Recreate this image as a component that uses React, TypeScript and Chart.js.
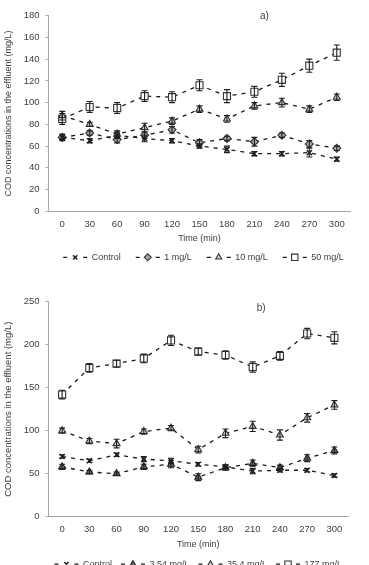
import React, { useEffect, useRef } from 'react';
import { Chart, registerables } from 'chart.js';
import { drawPoint } from 'chart.js/helpers';

Chart.register(...registerables);

// ---- data -------------------------------------------------------------
const timeLabels = ['0', '30', '60', '90', '120', '150', '180', '210', '240', '270', '300'];

// a) COD (mg/L) and +/- error
const controlA = [68, 65, 70, 67, 65, 60, 57, 53, 53, 54, 48];
const controlAErr = [2, 2, 3, 3, 2, 2, 3, 2, 2, 4, 2];
const oneMgA = [68, 72, 66, 70, 75, 63, 67, 64, 70, 62, 58];
const oneMgAErr = [3, 2, 3, 3, 3, 3, 2, 4, 2, 3, 2];
const tenMgA = [88, 80, 71, 77, 83, 94, 85, 97, 100, 94, 105];
const tenMgAErr = [4, 2, 3, 4, 3, 3, 3, 3, 4, 3, 3];
const fiftyMgA = [85, 96, 95, 106, 105, 116, 106, 110, 121, 134, 146];
const fiftyMgAErr = [5, 5, 5, 5, 5, 5, 6, 5, 6, 6, 7];

// b) COD (mg/L) and +/- error
const controlB = [70, 65, 72, 67, 65, 61, 58, 53, 54, 54, 48];
const controlBErr = [2, 2, 2, 3, 3, 2, 2, 3, 2, 2, 2];
const lowB = [58, 52, 50, 58, 61, 46, 57, 62, 57, 68, 77];
const lowBErr = [3, 2, 2, 3, 4, 4, 3, 4, 3, 4, 4];
const midB = [100, 88, 85, 99, 103, 78, 97, 105, 95, 115, 130];
const midBErr = [3, 3, 5, 3, 3, 4, 5, 6, 6, 5, 5];
const highB = [142, 173, 178, 184, 205, 192, 188, 174, 187, 213, 208];
const highBErr = [5, 5, 4, 5, 6, 4, 5, 6, 5, 6, 7];

// ---- styles -----------------------------------------------------------
const FONT = '"Liberation Sans", Arial, sans-serif';
const TEXT = '#404040';
const AXIS = '#a6a6a6';
const LINE = '#1a1a1a';
const Y_TITLE = 'COD concentrations in the effluent (mg/L)';

const markers: Record<string, any> = {
  cross: { pointStyle: 'crossRot', pointRadius: 3.5, pointBackgroundColor: '#1f1f1f', pointBorderColor: '#1f1f1f', pointBorderWidth: 1.5 },
  diamond: { pointStyle: 'rectRot', pointRadius: 4, pointBackgroundColor: '#a6a6a6', pointBorderColor: '#333333', pointBorderWidth: 1.1 },
  triLight: { pointStyle: 'triangle', pointRadius: 4, pointBackgroundColor: '#d0d0d0', pointBorderColor: '#333333', pointBorderWidth: 1.1 },
  triDark: { pointStyle: 'triangle', pointRadius: 4, pointBackgroundColor: '#6e6e6e', pointBorderColor: '#1f1f1f', pointBorderWidth: 1.1 },
  square: { pointStyle: 'rect', pointRadius: 5, pointBackgroundColor: '#ffffff', pointBorderColor: '#333333', pointBorderWidth: 1.1 },
};

function series(label: string, data: number[], errors: number[], marker: string) {
  return {
    label,
    data,
    errors,
    borderColor: LINE,
    borderWidth: 1.3,
    borderDash: [4, 5],
    fill: false,
    tension: 0,
    ...markers[marker],
  };
}

// vertical error bars with caps
const errorBarPlugin = {
  id: 'errorBars',
  afterDatasetsDraw(chart: any) {
    const { ctx } = chart;
    const yScale = chart.scales.y;
    chart.data.datasets.forEach((ds: any, i: number) => {
      if (!ds.errors) return;
      const meta = chart.getDatasetMeta(i);
      ctx.save();
      ctx.strokeStyle = '#1f1f1f';
      ctx.lineWidth = 1.1;
      ctx.setLineDash([]);
      meta.data.forEach((pt: any, j: number) => {
        const v = ds.data[j];
        const e = ds.errors[j];
        const top = yScale.getPixelForValue(v + e);
        const bot = yScale.getPixelForValue(v - e);
        const x = pt.x;
        ctx.beginPath();
        ctx.moveTo(x, top);
        ctx.lineTo(x, bot);
        ctx.moveTo(x - 3, top);
        ctx.lineTo(x + 3, top);
        ctx.moveTo(x - 3, bot);
        ctx.lineTo(x + 3, bot);
        ctx.stroke();
      });
      ctx.restore();
    });
  },
};

// legend entries drawn as "- marker - label"
const dashLegendPlugin = {
  id: 'dashLegend',
  afterDraw(chart: any, _args: any, opts: any) {
    const { ctx, chartArea } = chart;
    ctx.save();
    ctx.font = `${opts.fontSize}px ${FONT}`;
    const sample = 24;
    const gap = 4.5;
    const spacing = opts.spacing;
    const items = chart.data.datasets.map((ds: any) => ({ ds, w: sample + gap + ctx.measureText(ds.label).width }));
    const total = items.reduce((s: number, it: any) => s + it.w, 0) + spacing * (items.length - 1);
    let x = (chartArea.left + chartArea.right) / 2 + opts.shift - total / 2;
    const y = chartArea.bottom + opts.offset;
    items.forEach(({ ds, w }: any) => {
      ctx.strokeStyle = LINE;
      ctx.lineWidth = 1.3;
      ctx.setLineDash([]);
      ctx.beginPath();
      ctx.moveTo(x, y);
      ctx.lineTo(x + 4, y);
      ctx.moveTo(x + sample - 4, y);
      ctx.lineTo(x + sample, y);
      ctx.stroke();
      ctx.fillStyle = ds.pointBackgroundColor;
      ctx.strokeStyle = ds.pointBorderColor;
      ctx.lineWidth = ds.pointBorderWidth;
      drawPoint(ctx, { pointStyle: ds.pointStyle, radius: ds.pointRadius - 0.5, rotation: 0, borderWidth: ds.pointBorderWidth }, x + sample / 2, y);
      ctx.fillStyle = TEXT;
      ctx.textAlign = 'left';
      ctx.textBaseline = 'middle';
      ctx.fillText(ds.label, x + sample + gap, y);
      x += w + spacing;
    });
    ctx.restore();
  },
};

// "a)" / "b)" tag inside the plot area
const panelTagPlugin = {
  id: 'panelTag',
  afterDraw(chart: any, _args: any, opts: any) {
    const { ctx, chartArea } = chart;
    ctx.save();
    ctx.font = `10px ${FONT}`;
    ctx.fillStyle = TEXT;
    ctx.textAlign = 'center';
    ctx.textBaseline = 'middle';
    ctx.fillText(opts.text, chartArea.left + opts.fx * (chartArea.right - chartArea.left), chartArea.top + opts.dy);
    ctx.restore();
  },
};

function buildConfig(p: any): any {
  const tickFont = { family: FONT, size: 9.5 };
  return {
    type: 'line',
    data: { labels: timeLabels, datasets: p.datasets },
    plugins: [errorBarPlugin, dashLegendPlugin, panelTagPlugin],
    options: {
      responsive: false,
      animation: false,
      devicePixelRatio: 1,
      layout: { padding: p.padding },
      plugins: {
        legend: { display: false },
        tooltip: { enabled: false },
        dashLegend: { fontSize: 9, spacing: p.legendSpacing, shift: p.legendShift, offset: p.legendOffset },
        panelTag: { text: p.tag, fx: p.tagFx, dy: p.tagDy },
      },
      scales: {
        x: {
          type: 'category',
          offset: true,
          grid: { display: false, drawTicks: false },
          border: { color: AXIS, width: 1 },
          ticks: { color: TEXT, font: tickFont, padding: 7, maxRotation: 0, autoSkip: false },
          title: { display: true, text: 'Time (min)', color: TEXT, font: { family: FONT, size: 9 }, padding: { top: 0, bottom: 7 } },
          afterFit: (s: any) => { s.height = 40; },
        },
        y: {
          min: 0,
          max: p.yMax,
          ticks: { stepSize: p.yStep, color: TEXT, font: tickFont, padding: 6 },
          grid: { drawOnChartArea: false, drawTicks: true, tickLength: 3, color: AXIS },
          border: { color: AXIS, width: 1 },
          title: { display: true, text: Y_TITLE, color: TEXT, font: { family: FONT, size: p.yTitleSize }, padding: { top: 3, bottom: 0 } },
          afterFit: (s: any) => { s.width = 48.5; },
        },
      },
    },
  };
}

const panelA = {
  datasets: [
    series('Control', controlA, controlAErr, 'cross'),
    series('1 mg/L', oneMgA, oneMgAErr, 'diamond'),
    series('10 mg/L', tenMgA, tenMgAErr, 'triLight'),
    series('50 mg/L', fiftyMgA, fiftyMgAErr, 'square'),
  ],
  yMax: 180,
  yStep: 20,
  yTitleSize: 9,
  padding: { left: 0, right: 18.5, top: 15.7, bottom: 38.7 },
  legendOffset: 46,
  legendSpacing: 15,
  legendShift: 4,
  tag: 'a)',
  tagFx: 0.715,
  tagDy: 1,
};

const panelB = {
  datasets: [
    series('Control', controlB, controlBErr, 'cross'),
    series('3.54 mg/L', lowB, lowBErr, 'triDark'),
    series('35.4 mg/L', midB, midBErr, 'triLight'),
    series('177 mg/L', highB, highBErr, 'square'),
  ],
  yMax: 250,
  yStep: 50,
  yTitleSize: 9.5,
  padding: { left: 0, right: 21, top: 8, bottom: 8.3 },
  legendOffset: 47.5,
  legendSpacing: 9,
  legendShift: 0,
  tag: 'b)',
  tagFx: 0.71,
  tagDy: 7,
};

export default function App() {
  const refA = useRef<HTMLCanvasElement>(null);
  const refB = useRef<HTMLCanvasElement>(null);

  useEffect(() => {
    const a = new Chart(refA.current as HTMLCanvasElement, buildConfig(panelA));
    const b = new Chart(refB.current as HTMLCanvasElement, buildConfig(panelB));
    return () => {
      a.destroy();
      b.destroy();
    };
  }, []);

  return (
    <div style={{ position: 'absolute', left: 0, top: 0, width: 369, height: 565, overflow: 'hidden', background: '#fff' }}>
      <canvas ref={refA} width={369} height={290} style={{ display: 'block', width: 369, height: 290 }} />
      <canvas ref={refB} width={369} height={275} style={{ display: 'block', width: 369, height: 275 }} />
    </div>
  );
}
